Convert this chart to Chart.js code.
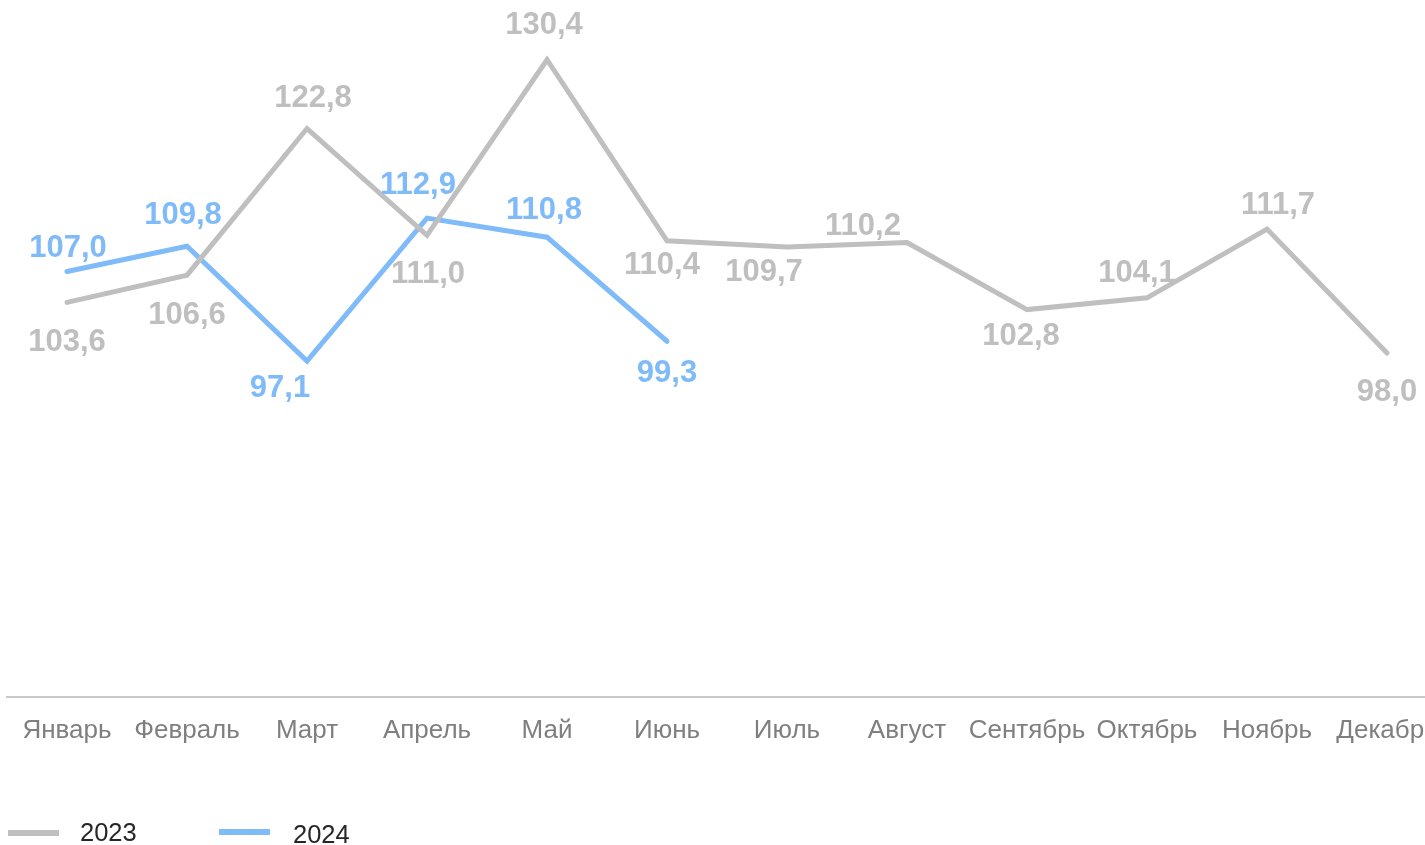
<!DOCTYPE html>
<html>
<head>
<meta charset="utf-8">
<script src="https://cdn.jsdelivr.net/npm/chart.js@4"></script>
<style>
  html, body { margin: 0; padding: 0; overflow: hidden; background: #ffffff; }
  #wrap { position: relative; width: 1447px; height: 860px; }
  canvas { display: block; }
</style>
</head>
<body>
<div id="wrap"><canvas id="c" width="1447" height="860"></canvas></div>
<script>
// ---- data ----
const categories = ['Январь','Февраль','Март','Апрель','Май','Июнь','Июль','Август','Сентябрь','Октябрь','Ноябрь','Декабрь'];
const series2023 = [103.6, 106.6, 122.8, 111.0, 130.4, 110.4, 109.7, 110.2, 102.8, 104.1, 111.7, 98.0];
const series2024 = [107.0, 109.8, 97.1, 112.9, 110.8, 99.3];
const seriesNames = ['2023', '2024'];

// ---- label layout (pixel offsets of value labels from their points) ----
const labelDx2023 = [0, 0, 6, 1, -3, -5, -23, -44, -6, -10, 11, 0];
const labelDy2023 = [40, 40, -30, 39, -34, 25, 25, -16, 27, -24, -24, 39];
const labelDx2024 = [1, -4, -27, -9, -3, 0];
const labelDy2024 = [-23, -31, 27, -33, -27, 32];

const GRAY = '#BFBFBF';
const BLUE = '#7FBAF9';
const FONT = '"Liberation Sans", Arial, sans-serif';

const fmt = v => v.toFixed(1).replace('.', ',');

const valueLabels = {
  id: 'valueLabels',
  afterDatasetsDraw(chart) {
    const ctx = chart.ctx;
    const offs = [[labelDx2023, labelDy2023], [labelDx2024, labelDy2024]];
    ctx.save();
    ctx.font = 'bold 31px ' + FONT;
    ctx.textAlign = 'center';
    ctx.textBaseline = 'middle';
    chart.data.datasets.forEach((ds, di) => {
      const meta = chart.getDatasetMeta(di);
      ctx.fillStyle = ds.borderColor;
      meta.data.forEach((pt, i) => {
        const v = ds.data[i];
        if (v == null) return;
        ctx.fillText(fmt(v), pt.x + offs[di][0][i], pt.y + offs[di][1][i]);
      });
    });
    ctx.restore();
  }
};

const customLegend = {
  id: 'customLegend',
  afterDraw(chart) {
    const ctx = chart.ctx;
    const items = [
      { x0: 8, x1: 59, ly: 833, tx: 80, ty: 834 },
      { x0: 219, x1: 270, ly: 832, tx: 293, ty: 836 }
    ];
    ctx.save();
    chart.data.datasets.forEach((ds, i) => {
      const it = items[i];
      ctx.strokeStyle = ds.borderColor;
      ctx.lineWidth = 6;
      ctx.lineCap = 'butt';
      ctx.beginPath();
      ctx.moveTo(it.x0, it.ly);
      ctx.lineTo(it.x1, it.ly);
      ctx.stroke();
      ctx.fillStyle = '#262626';
      ctx.font = '25.5px ' + FONT;
      ctx.textAlign = 'left';
      ctx.textBaseline = 'middle';
      ctx.fillText(ds.label, it.tx, it.ty);
    });
    ctx.restore();
  }
};

new Chart(document.getElementById('c'), {
  type: 'line',
  data: {
    labels: categories,
    datasets: [
      { label: seriesNames[0], data: series2023, borderColor: GRAY, backgroundColor: GRAY,
        borderWidth: 5, pointRadius: 0, tension: 0, borderCapStyle: 'round', fill: false },
      { label: seriesNames[1], data: series2024, borderColor: BLUE, backgroundColor: BLUE,
        borderWidth: 5, pointRadius: 0, tension: 0, borderCapStyle: 'round', fill: false }
    ]
  },
  options: {
    responsive: false,
    animation: false,
    events: [],
    layout: { padding: { left: 7, right: 0, top: 0, bottom: 0 } },
    plugins: {
      legend: { display: false },
      tooltip: { enabled: false },
      title: { display: false }
    },
    scales: {
      x: {
        offset: true,
        grid: { display: false, drawTicks: false },
        border: { display: true, color: '#C9C9C9', width: 2 },
        ticks: {
          color: '#7F7F7F',
          font: { family: FONT, size: 26 },
          padding: 18,
          maxRotation: 0,
          autoSkip: false
        },
        afterFit(scale) {
          scale.height = 860 - 697;
          scale.paddingLeft = 0;
          scale.paddingRight = 0;
        }
      },
      y: {
        display: false,
        min: 60,
        max: 137
      }
    }
  },
  plugins: [valueLabels, customLegend]
});
</script>
</body>
</html>
